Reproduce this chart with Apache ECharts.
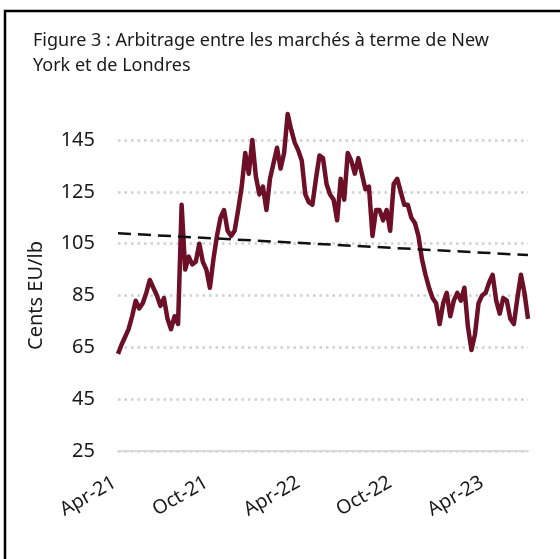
<!DOCTYPE html>
<html lang="fr">
<head>
    <meta charset="UTF-8">
    <title>Figure 3</title>
    <script src="https://cdn.jsdelivr.net/npm/echarts@6/dist/echarts.min.js"></script>
    <style>
        html, body { margin: 0; padding: 0; background: #fff; }
        #main { width: 560px; height: 559px; }
    </style>
</head>
<body>
<div id="main"></div>
<script type="text/javascript">
    // dates hebdomadaires (lecture approximative de la courbe)
    const dates = [
        '2021-04-01', '2021-04-08', '2021-04-15', '2021-04-22', '2021-04-29',
        '2021-05-06', '2021-05-13', '2021-05-20', '2021-05-27',
        '2021-06-03', '2021-06-10', '2021-06-17', '2021-06-24',
        '2021-07-01', '2021-07-08', '2021-07-15', '2021-07-22', '2021-07-29',
        '2021-08-05', '2021-08-12', '2021-08-19', '2021-08-26',
        '2021-09-02', '2021-09-09', '2021-09-16', '2021-09-23', '2021-09-30',
        '2021-10-07', '2021-10-14', '2021-10-21', '2021-10-28',
        '2021-11-04', '2021-11-11', '2021-11-18', '2021-11-25',
        '2021-12-02', '2021-12-09', '2021-12-16', '2021-12-23', '2021-12-30',
        '2022-01-06', '2022-01-13', '2022-01-20', '2022-01-27',
        '2022-02-03', '2022-02-10', '2022-02-17', '2022-02-24',
        '2022-03-03', '2022-03-10', '2022-03-17', '2022-03-24', '2022-03-31',
        '2022-04-07', '2022-04-14', '2022-04-21', '2022-04-28',
        '2022-05-05', '2022-05-12', '2022-05-19', '2022-05-26',
        '2022-06-02', '2022-06-09', '2022-06-16', '2022-06-23', '2022-06-30',
        '2022-07-07', '2022-07-14', '2022-07-21', '2022-07-28',
        '2022-08-04', '2022-08-11', '2022-08-18', '2022-08-25',
        '2022-09-01', '2022-09-08', '2022-09-15', '2022-09-22', '2022-09-29',
        '2022-10-06', '2022-10-13', '2022-10-20', '2022-10-27',
        '2022-11-03', '2022-11-10', '2022-11-17', '2022-11-24',
        '2022-12-01', '2022-12-08', '2022-12-15', '2022-12-22', '2022-12-29',
        '2023-01-05', '2023-01-12', '2023-01-19', '2023-01-26',
        '2023-02-02', '2023-02-09', '2023-02-16', '2023-02-23',
        '2023-03-02', '2023-03-09', '2023-03-16', '2023-03-23', '2023-03-30',
        '2023-04-06', '2023-04-13', '2023-04-20', '2023-04-27',
        '2023-05-04', '2023-05-11', '2023-05-18', '2023-05-25',
        '2023-06-01', '2023-06-08', '2023-06-15', '2023-06-22'
    ];

    // arbitrage NY / Londres, cents EU/lb
    const arbitrage = [
        62.5, 66, 69, 72, 77, 83, 80, 82, 86, 91,
        88, 85, 81, 84, 76, 72, 77, 74, 120, 95,
        100, 97, 98, 105, 98, 95, 88, 99, 108, 115,
        118, 110, 108, 110, 118, 127, 140, 132, 145, 131,
        124, 127, 118, 130, 136, 142, 134, 140, 155, 149,
        144, 141, 137, 124, 121, 120, 130, 139, 138, 128,
        124, 122, 114, 130, 122, 140, 137, 132, 138, 132,
        126, 127, 108, 118, 118, 114, 118, 110, 128, 130,
        125, 120, 120, 115, 113, 108, 99, 93, 88, 84,
        82, 74, 82, 86, 77, 83, 86, 83, 88, 73,
        64, 70, 82, 85, 86, 90, 93, 83, 78, 84,
        83, 76, 74, 84, 93, 86, 76
    ];

    // tendance linéaire (début / fin)
    const trendStart = 109;
    const trendEnd = 100.6;

    const tickDates = ['2021-04-01', '2021-09-30', '2022-03-31', '2022-09-29', '2023-03-30'];
    const tickLabels = ['Apr-21', 'Oct-21', 'Apr-22', 'Oct-22', 'Apr-23'];

    const yMin = 25, yMax = 145, yStep = 20;

    let myChart = echarts.init(document.getElementById('main'));
    let option = {
        animation: false,
        textStyle: {fontFamily: 'Noto Sans'},
        title: {
            text: 'Figure 3 : Arbitrage entre les marchés à terme de New\nYork et de Londres',
            left: 28,
            top: 23,
            textStyle: {
                fontFamily: 'Noto Sans',
                fontSize: 18,
                fontWeight: 'normal',
                color: '#1a1a1a',
                lineHeight: 25
            }
        },
        graphic: [{
            type: 'rect',
            shape: {x: 5, y: 11, width: 700, height: 700},
            style: {fill: 'none', stroke: '#000', lineWidth: 2.5},
            silent: true
        }],
        grid: {left: 118, right: 32, top: 140, bottom: 108},
        xAxis: {
            type: 'category',
            boundaryGap: false,
            data: dates,
            axisLine: {lineStyle: {color: '#d9d9d9', width: 2}},
            axisTick: {show: false},
            axisLabel: {
                rotate: 30,
                margin: 28,
                padding: [0, 4, 0, 0],
                fontSize: 19.5,
                color: '#1a1a1a',
                interval: (i, v) => tickDates.includes(v),
                formatter: (v) => tickLabels[tickDates.indexOf(v)]
            },
            splitLine: {show: false}
        },
        yAxis: {
            type: 'value',
            min: yMin,
            max: yMax,
            interval: yStep,
            name: 'Cents EU/lb',
            nameLocation: 'middle',
            nameGap: 72,
            nameTextStyle: {fontSize: 20, color: '#1a1a1a'},
            axisLine: {show: false},
            axisTick: {show: false},
            axisLabel: {fontSize: 20, color: '#1a1a1a', margin: 23},
            splitLine: {lineStyle: {color: '#d0d0d0', width: 2.5, type: [2.5, 4]}}
        },
        series: [
            {
                name: 'Arbitrage',
                type: 'line',
                data: arbitrage,
                symbol: 'none',
                clip: false,
                z: 3,
                lineStyle: {color: '#6d0f27', width: 4.5, join: 'round'}
            },
            {
                name: 'Tendance',
                type: 'line',
                data: [[dates[0], trendStart], [dates[dates.length - 1], trendEnd]],
                symbol: 'none',
                z: 4,
                lineStyle: {color: '#111', width: 2.5, type: [13, 7]}
            }
        ]
    };
    myChart.setOption(option);
</script>
</body>
</html>
